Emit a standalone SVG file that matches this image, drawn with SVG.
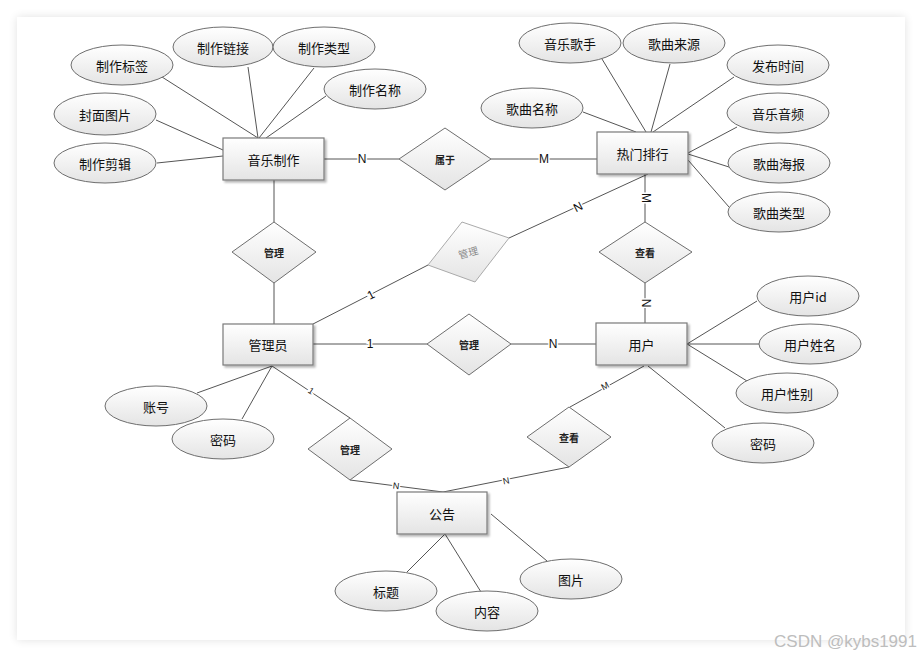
<svg xmlns="http://www.w3.org/2000/svg" width="921" height="657" viewBox="0 0 921 657">
<defs>
<linearGradient id="g" x1="0" y1="0" x2="0" y2="1"><stop offset="0" stop-color="#ffffff"/><stop offset="1" stop-color="#e4e4e4"/></linearGradient>
<filter id="card" x="-5%" y="-5%" width="110%" height="110%"><feGaussianBlur in="SourceAlpha" stdDeviation="5"/><feComponentTransfer><feFuncA type="linear" slope="0.12"/></feComponentTransfer><feMerge><feMergeNode/><feMergeNode in="SourceGraphic"/></feMerge></filter>
<filter id="sh" x="-10%" y="-10%" width="130%" height="130%"><feGaussianBlur in="SourceAlpha" stdDeviation="1"/><feOffset dx="1.5" dy="1.5"/><feComponentTransfer><feFuncA type="linear" slope="0.3"/></feComponentTransfer><feMerge><feMergeNode/><feMergeNode in="SourceGraphic"/></feMerge></filter>
</defs>
<style>
.ent{fill:url(#g);stroke:#7a7a7a;stroke-width:1.2;filter:url(#sh)}
.att{fill:url(#g);stroke:#6e6e6e;stroke-width:1}
.rel{fill:url(#g);stroke:#6e6e6e;stroke-width:1}
.t{font-family:"Noto Sans CJK SC","Microsoft YaHei",sans-serif;font-size:13px;fill:#111;text-anchor:middle;dominant-baseline:central}
.rt{font-family:"Noto Sans CJK SC",sans-serif;font-size:10px;font-weight:bold;fill:#222;text-anchor:middle;dominant-baseline:central}
.ln{stroke:#555;stroke-width:1;fill:none}
.lb{font-family:"Liberation Sans",Arial,sans-serif;font-size:12px;fill:#111;text-anchor:middle;dominant-baseline:central;stroke:#fff;stroke-width:3;paint-order:stroke}
.ls{font-size:9px}
</style>
<rect x="0" y="0" width="921" height="657" fill="#ffffff"/>
<rect x="17" y="17" width="888" height="623" fill="#ffffff" filter="url(#card)"/>

<g id="connectors">
<line class="ln" x1="162" y1="77" x2="258" y2="138"/>
<line class="ln" x1="248" y1="67" x2="258" y2="138"/>
<line class="ln" x1="314" y1="68" x2="259" y2="138"/>
<line class="ln" x1="326" y1="96" x2="266" y2="138"/>
<line class="ln" x1="156" y1="120" x2="223" y2="150"/>
<line class="ln" x1="157" y1="163" x2="223" y2="156"/>
<line class="ln" x1="324" y1="159" x2="399" y2="159"/>
<line class="ln" x1="491" y1="159" x2="597" y2="159"/>
<line class="ln" x1="583" y1="112" x2="636" y2="132"/>
<line class="ln" x1="602" y1="59" x2="646" y2="132"/>
<line class="ln" x1="670" y1="64" x2="651" y2="132"/>
<line class="ln" x1="734" y1="77" x2="653" y2="132"/>
<line class="ln" x1="737" y1="127" x2="688" y2="153"/>
<line class="ln" x1="688" y1="154" x2="729" y2="167" stroke-width="1.6"/>
<line class="ln" x1="688" y1="160" x2="729" y2="207"/>
<line class="ln" x1="645" y1="174" x2="645" y2="222"/>
<line class="ln" x1="645" y1="283" x2="645" y2="323"/>
<line class="ln" x1="274" y1="180" x2="274" y2="222"/>
<line class="ln" x1="274" y1="283" x2="274" y2="324"/>
<line class="ln" x1="313" y1="324" x2="428" y2="265"/>
<line class="ln" x1="509" y1="238" x2="648" y2="174"/>
<line class="ln" x1="313" y1="344" x2="427" y2="344"/>
<line class="ln" x1="511" y1="344" x2="596" y2="344"/>
<line class="ln" x1="272" y1="366" x2="197" y2="393"/>
<line class="ln" x1="272" y1="366" x2="242" y2="419"/>
<line class="ln" x1="272" y1="366" x2="350" y2="418"/>
<line class="ln" x1="350" y1="480" x2="443" y2="492"/>
<line class="ln" x1="644" y1="366" x2="570" y2="407"/>
<line class="ln" x1="569" y1="467" x2="443" y2="492"/>
<line class="ln" x1="687" y1="344" x2="757" y2="301"/>
<line class="ln" x1="687" y1="344" x2="759" y2="344"/>
<line class="ln" x1="687" y1="344" x2="747" y2="381"/>
<line class="ln" x1="648" y1="366" x2="725" y2="428"/>
<line class="ln" x1="445" y1="534" x2="407" y2="572"/>
<line class="ln" x1="445" y1="534" x2="481" y2="592"/>
<line class="ln" x1="491" y1="514" x2="547" y2="561"/>
<text class="lb" x="362" y="159">N</text>
<text class="lb" x="544" y="159">M</text>
<text class="lb" transform="translate(646 198) rotate(90)">M</text>
<text class="lb" transform="translate(646 303) rotate(90)">N</text>
<text class="lb" transform="translate(371 295) rotate(-27)">1</text>
<text class="lb" transform="translate(578 207) rotate(-27)">N</text>
<text class="lb" x="370" y="344">1</text>
<text class="lb" x="553" y="344">N</text>
<text class="lb ls" transform="translate(311 391) rotate(34)">1</text>
<text class="lb ls" transform="translate(396 486) rotate(7)">N</text>
<text class="lb ls" transform="translate(506 481) rotate(-11)">N</text>
<text class="lb ls" transform="translate(605 386) rotate(-29)">M</text>
</g>

<g id="e-yinyuezhizuo"><rect class="ent" x="223" y="138" width="101" height="42"/><text class="t" x="273.5" y="159">音乐制作</text></g>
<g id="e-remenpaihang"><rect class="ent" x="597" y="132" width="91" height="42"/><text class="t" x="642.5" y="153">热门排行</text></g>
<g id="e-guanliyuan"><rect class="ent" x="223" y="324" width="90" height="41"/><text class="t" x="268" y="344.5">管理员</text></g>
<g id="e-yonghu"><rect class="ent" x="596" y="323" width="91" height="42"/><text class="t" x="641.5" y="344">用户</text></g>
<g id="e-gonggao"><rect class="ent" x="397" y="492" width="90" height="42"/><text class="t" x="442" y="513">公告</text></g>

<g id="r-shuyu"><polygon class="rel" points="445,128 491,159 445,190 399,159"/><text class="rt" x="445" y="159">属于</text></g>
<g id="r-guanli1"><polygon class="rel" points="274,222 316,252 274,283 232,252"/><text class="rt" x="274" y="252">管理</text></g>
<g id="r-guanli2"><polygon points="462,222 509,238 475,282 428,265" fill="url(#g)" stroke="#aaaaaa" stroke-width="1"/><text class="rt" transform="translate(468 252) rotate(-15)" style="fill:#888;font-weight:normal">管理</text></g>
<g id="r-chakan1"><polygon class="rel" points="645,222 692,252 645,283 599,252"/><text class="rt" x="645" y="252">查看</text></g>
<g id="r-guanli3"><polygon class="rel" points="469,314 511,344 469,375 427,344"/><text class="rt" x="469" y="344">管理</text></g>
<g id="r-guanli4"><polygon class="rel" points="350,418 392,449 350,480 308,449"/><text class="rt" x="350" y="449">管理</text></g>
<g id="r-chakan2"><polygon class="rel" points="569,407 611,437 569,467 527,437"/><text class="rt" x="569" y="437">查看</text></g>

<g id="a-zhizuobiaoqian"><ellipse class="att" cx="122" cy="65" rx="51" ry="20"/><text class="t" x="122" y="65">制作标签</text></g>
<g id="a-zhizuolianjie"><ellipse class="att" cx="223" cy="47" rx="50" ry="20"/><text class="t" x="223" y="47">制作链接</text></g>
<g id="a-zhizuoleixing"><ellipse class="att" cx="324" cy="47" rx="51" ry="20"/><text class="t" x="324" y="47">制作类型</text></g>
<g id="a-zhizuomingcheng"><ellipse class="att" cx="375" cy="89" rx="51" ry="20"/><text class="t" x="375" y="89">制作名称</text></g>
<g id="a-fengmiantupian"><ellipse class="att" cx="105" cy="114" rx="51" ry="21"/><text class="t" x="105" y="114">封面图片</text></g>
<g id="a-zhizuojianji"><ellipse class="att" cx="105" cy="163" rx="51" ry="20"/><text class="t" x="105" y="163">制作剪辑</text></g>
<g id="a-yinyuegeshou"><ellipse class="att" cx="570" cy="43" rx="51" ry="20"/><text class="t" x="570" y="43">音乐歌手</text></g>
<g id="a-gequlaiyuan"><ellipse class="att" cx="674" cy="43" rx="51" ry="20"/><text class="t" x="674" y="43">歌曲来源</text></g>
<g id="a-fabushijian"><ellipse class="att" cx="778" cy="65" rx="51" ry="20"/><text class="t" x="778" y="65">发布时间</text></g>
<g id="a-gequmingcheng"><ellipse class="att" cx="532" cy="108" rx="51" ry="20"/><text class="t" x="532" y="108">歌曲名称</text></g>
<g id="a-yinyueyinpin"><ellipse class="att" cx="778" cy="113" rx="51" ry="20"/><text class="t" x="778" y="113">音乐音频</text></g>
<g id="a-guquhaibao"><ellipse class="att" cx="779" cy="163" rx="51" ry="20"/><text class="t" x="779" y="163">歌曲海报</text></g>
<g id="a-gequleixing"><ellipse class="att" cx="779" cy="212" rx="51" ry="20"/><text class="t" x="779" y="212">歌曲类型</text></g>
<g id="a-yonghuid"><ellipse class="att" cx="808" cy="296" rx="51" ry="20"/><text class="t" x="808" y="296">用户id</text></g>
<g id="a-yonghuxingming"><ellipse class="att" cx="810" cy="344" rx="51" ry="20"/><text class="t" x="810" y="344">用户姓名</text></g>
<g id="a-yonghuxingbie"><ellipse class="att" cx="787" cy="393" rx="51" ry="20"/><text class="t" x="787" y="393">用户性别</text></g>
<g id="a-mima-user"><ellipse class="att" cx="763" cy="443" rx="51" ry="20"/><text class="t" x="763" y="443">密码</text></g>
<g id="a-zhanghao"><ellipse class="att" cx="156" cy="406" rx="51" ry="20"/><text class="t" x="156" y="406">账号</text></g>
<g id="a-mima-admin"><ellipse class="att" cx="223" cy="439" rx="51" ry="20"/><text class="t" x="223" y="439">密码</text></g>
<g id="a-biaoti"><ellipse class="att" cx="386" cy="591" rx="51" ry="20"/><text class="t" x="386" y="591">标题</text></g>
<g id="a-neirong"><ellipse class="att" cx="487" cy="611" rx="51" ry="20"/><text class="t" x="487" y="611">内容</text></g>
<g id="a-tupian"><ellipse class="att" cx="571" cy="579" rx="51" ry="20"/><text class="t" x="571" y="579">图片</text></g>

<text x="917" y="647" text-anchor="end" font-family="Liberation Sans, Arial, sans-serif" font-size="17" fill="#bdbdbd">CSDN @kybs1991</text>
</svg>
